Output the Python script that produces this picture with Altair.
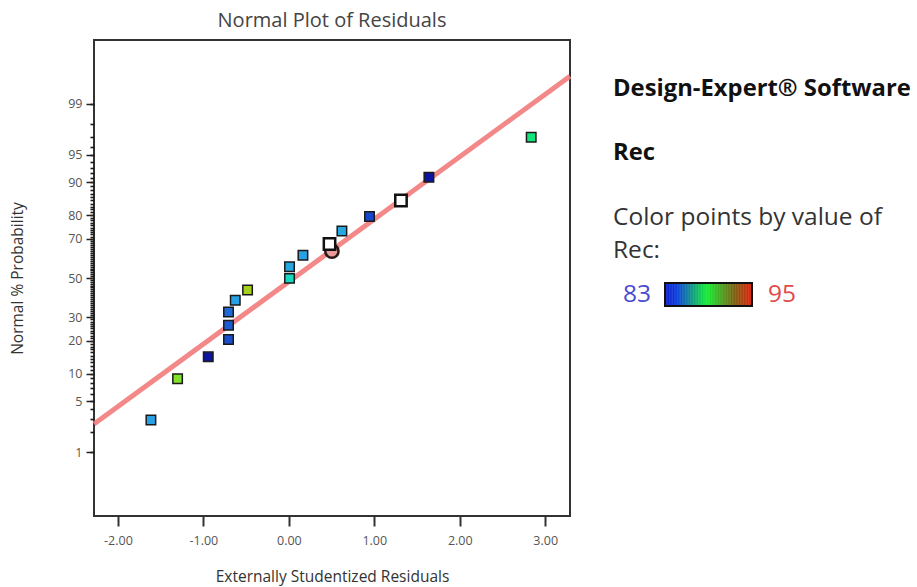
import altair as alt
import pandas as pd
from statistics import NormalDist

# Externally studentized residuals and their normal % probability positions
resid = [-1.614, -1.302, -0.943, -0.706, -0.706, -0.706, -0.627, -0.483,
         0.008, 0.008, 0.165, 0.476, 0.621, 0.944, 1.312, 1.639, 2.836]
prob = [2.88, 8.9, 14.6, 20.6, 26.4, 32.5, 38.3, 43.6,
        49.8, 56.0, 61.9, 67.5, 73.5, 79.4, 85.0, 91.1, 97.0]
# Response value (Rec) used for colouring each run
rec = [86.0, 90.5, 83.2, 84.5, 84.7, 85.0, 86.0, 91.2,
       87.5, 86.2, 86.0, 86.0, 86.2, 84.3, 86.0, 83.2, 88.3]
# Runs shown as open (white) squares
flagged = [False, False, False, False, False, False, False, False,
           False, False, False, True, False, False, True, False, False]

# Reference line through the residuals
line_resid = [-2.28, 3.29]
line_prob = [2.55, 99.65]

# Circled run
circle_resid = [0.504]
circle_prob = [64.0]

# Probability axis
major_pct = [1, 5, 10, 20, 30, 50, 70, 80, 90, 95, 99]
minor_pct = list(range(1, 100))

rec_min, rec_max = 83, 95

FONT = "Open Sans"
nd = NormalDist()
major_z = [nd.inv_cdf(p / 100) for p in major_pct]
minor_z = [nd.inv_cdf(p / 100) for p in minor_pct]

pts = pd.DataFrame({"resid": resid, "p": prob, "rec": rec, "flag": flagged})
line_df = pd.DataFrame({"resid": line_resid, "p": line_prob})
circ_df = pd.DataFrame({"resid": circle_resid, "p": circle_prob})

point_colors = alt.Scale(
    domain=[83, 84.5, 86, 87.5, 89, 91, 93, 95],
    range=["#0b0b9a", "#1a4fd0", "#28a0e4", "#18d8c0", "#10ee40",
           "#a8dc20", "#905010", "#e81e10"],
    interpolate="rgb",
)
key_colors = alt.Scale(
    domain=[83, 84.5, 88.7, 92.5, 95],
    range=["#0a1ec8", "#0a3ae0", "#10ee30", "#7a6010", "#e81a08"],
    interpolate="rgb",
)

x_scale = alt.Scale(domain=[-2.28, 3.29], nice=False, zero=False)
y_scale = alt.Scale(domain=[-3.18, 3.18], nice=False, zero=False)

x_enc = alt.X(
    "resid:Q",
    scale=x_scale,
    axis=alt.Axis(
        title="Externally Studentized Residuals",
        values=[-2, -1, 0, 1, 2, 3],
        labelExpr="replace(format(datum.value, '.2f'), '\u2212', '-')",
        domain=False,
        grid=False,
        tickSize=10,
        tickWidth=2,
        tickColor="#333333",
        labelPadding=8,
        labelFontSize=12.5,
        labelColor="#555555",
        labelFont=FONT,
        titleFont=FONT,
        titleFontSize=15.5,
        titleFontWeight="normal",
        titleColor="#333333",
        titlePadding=23,
    ),
)

# Labelled major probability ticks
y_major = alt.Y(
    "z:Q",
    scale=y_scale,
    axis=alt.Axis(
        orient="left",
        title="Normal % Probability",
        values=major_z,
        labelExpr="format(round(cumulativeNormal(datum.value) * 100), 'd')",
        labelOverlap=False,
        domain=False,
        grid=False,
        tickSize=8,
        tickWidth=1.5,
        tickColor="#222222",
        labelPadding=4,
        labelFontSize=12.5,
        labelColor="#555555",
        labelFont=FONT,
        titleFont=FONT,
        titleFontSize=15.5,
        titleFontWeight="normal",
        titleColor="#333333",
        titlePadding=42,
    ),
)

# Unlabelled minor ticks at every whole percent
y_minor = alt.Y(
    "z:Q",
    scale=y_scale,
    axis=alt.Axis(
        orient="left",
        title=None,
        values=minor_z,
        labels=False,
        domain=False,
        grid=False,
        tickSize=4,
        tickWidth=1.6,
        tickColor="#1a1a1a",
    ),
)

y_plain = alt.Y("z:Q", scale=y_scale, axis=None)

to_z = "quantileNormal(datum.p / 100)"

fit_line = alt.Chart(line_df).transform_calculate(z=to_z).mark_line(
    color="#f27b7b", strokeWidth=5, opacity=0.9
).encode(x=x_enc, y=y_minor)

circle = alt.Chart(circ_df).transform_calculate(z=to_z).mark_point(
    shape="circle", size=175, filled=True, opacity=1, fill="#eb9a9a",
    stroke="#2a1818", strokeWidth=2.5
).encode(x=x_enc, y=y_major)

squares = alt.Chart(pts).transform_calculate(z=to_z).transform_filter(
    "!datum.flag"
).mark_point(
    shape="square", size=90, filled=True, opacity=1, stroke="#1a1a1a", strokeWidth=1.5
).encode(
    x=x_enc, y=y_plain,
    fill=alt.Fill("rec:Q", scale=point_colors, legend=None),
)

open_squares = alt.Chart(pts).transform_calculate(z=to_z).transform_filter(
    "datum.flag"
).mark_point(
    shape="square", size=130, filled=True, opacity=1, fill="white",
    stroke="#111111", strokeWidth=2.5
).encode(x=x_enc, y=y_plain)

main = alt.layer(fit_line, circle, squares, open_squares).resolve_axis(
    y="independent"
).properties(
    width=476,
    height=476,
    title=alt.Title(
        "Normal Plot of Residuals", font=FONT, fontSize=20,
        fontWeight="normal", color="#444444", offset=9,
    ),
    view=alt.ViewBackground(stroke="#333333", strokeWidth=2),
)

# Side panel: software note and colour key
panel_texts = pd.DataFrame({"t": ["x"]})


def panel_text(text, x, y, size=24.5, weight="normal", color="#222222"):
    return alt.Chart(panel_texts).mark_text(
        text=text, align="left", baseline="middle", font=FONT,
        fontSize=size, fontWeight=weight, color=color,
    ).encode(x=alt.value(x), y=alt.value(y))


grad_df = pd.DataFrame({"g": [rec_min + i * 0.1 for i in range(int((rec_max - rec_min) * 10))]})
key_x = alt.Scale(domain=[rec_min, rec_max], range=[65, 152], nice=False, zero=False)

gradient = alt.Chart(grad_df).transform_calculate(g2="min(datum.g + 0.15, 95)").mark_rect().encode(
    x=alt.X("g:Q", scale=key_x, axis=None),
    x2="g2:Q",
    y=alt.value(243),
    y2=alt.value(266),
    fill=alt.Fill("g:Q", scale=key_colors, legend=None),
)

frame_df = pd.DataFrame({"lo": [rec_min], "hi": [rec_max]})
frame = alt.Chart(frame_df).mark_rect(
    fillOpacity=0, stroke="#111111", strokeWidth=2
).encode(
    x=alt.X("lo:Q", scale=key_x, axis=None),
    x2="hi:Q",
    y=alt.value(243),
    y2=alt.value(266),
)

side = alt.layer(
    panel_text("Design-Expert® Software", 13, 49, size=23.8, weight="bold", color="#111111"),
    panel_text("Rec", 13, 113, size=23.8, weight="bold", color="#111111"),
    panel_text("Color points by value of", 13, 178, color="#333333"),
    panel_text("Rec:", 13, 211, color="#333333"),
    panel_text(str(rec_min), 23, 255, color="#4a4ad0"),
    panel_text(str(rec_max), 168, 255, color="#e04a4a"),
    gradient,
    frame,
).properties(
    width=310,
    height=476,
    view=alt.ViewBackground(strokeWidth=0),
)

chart = alt.hconcat(main, side, spacing=30, bounds="flush").properties(
    padding={"left": 9, "top": 10, "right": 0, "bottom": 0},
    background="white",
).resolve_scale(x="independent", fill="independent")

chart.save("out.html", embed_options={"renderer": "svg", "actions": False})
